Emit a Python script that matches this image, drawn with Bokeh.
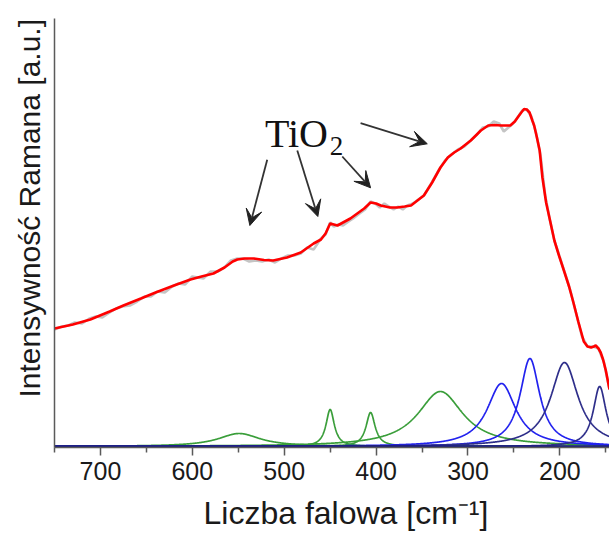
import numpy as np
from bokeh.plotting import figure
from bokeh.models import Range1d, FixedTicker, Label, Arrow, VeeHead, Title
from bokeh.embed import file_html
from bokeh.resources import INLINE

# Fitted envelope of the Raman spectrum (wavenumber, intensity a.u.)
fit_x = [750, 730, 711, 690, 675, 656, 640, 620, 602, 590, 577, 565, 556, 551, 543, 533,
         522, 512, 497, 482, 468, 460, 455, 450, 442, 428, 413, 406, 400, 395, 385, 377,
         369, 362, 355, 348, 339, 330, 322, 315, 308, 297, 286, 278, 271, 264, 254, 249,
         246, 242, 239, 236, 233, 230, 228, 225, 222, 219, 215, 210, 206, 201, 196, 190,
         185, 180, 174, 170, 166, 163, 161, 158, 155.6, 153, 150, 146]
fit_y = [119, 123, 128, 136, 142, 149, 155, 162, 168, 171, 174, 180, 186, 188, 189, 189,
         187.5, 187, 190, 195, 204, 208, 214, 224, 222, 229, 239, 245, 244, 242, 240, 240,
         241, 242, 247, 252, 265, 280, 290, 295, 299, 307, 317, 322, 322.5, 322, 322, 326,
         330, 335, 338.5, 338, 335, 327, 322, 310, 297, 270, 245, 224, 207, 192, 178, 161,
         144, 126, 106, 101, 100, 101, 102, 99, 95, 88, 77, 58]

# Measured (raw) spectrum
raw_x = [750, 742, 735, 728, 720, 712, 705, 698, 690, 683, 676, 668, 660, 652, 645, 638,
         630, 622, 615, 608, 600, 594, 588, 580, 572, 565, 558, 551, 545, 538, 531, 524,
         517, 510, 503, 496, 489, 482, 475, 468, 460, 455, 450, 446, 441, 436, 430, 425,
         418, 412, 406, 401, 396, 391, 386, 381, 376, 371, 366, 360, 354, 348, 340, 332,
         325, 318, 311, 304, 297, 290, 284, 278, 272, 266, 261, 256, 251, 246, 241, 236,
         231, 226, 221, 216, 211, 206, 200, 194, 188, 182, 176, 170, 164, 158, 152, 146]
raw_y = [118, 121, 122, 125, 124, 129, 131, 130, 135, 139, 141, 142, 146, 151, 151, 156,
         155, 161, 164, 163, 171, 170, 169, 176, 176, 180, 187, 189, 189, 186, 187, 186,
         188, 185, 189, 192, 192, 194, 200, 198, 209, 213, 225, 221, 223, 222, 226, 229,
         234, 238, 246, 244, 240, 244, 241, 238, 241, 238, 242, 244, 248, 252, 264, 277,
         287, 293, 298, 301, 307, 313, 320, 321, 326, 324, 316, 320, 324, 330, 337, 338,
         331, 315, 292, 252, 228, 207, 190, 173, 155, 133, 111, 101, 101, 99, 85, 58]

# Fitted band components: centre (cm-1), height (a.u.), half width (cm-1)
green_center = [549, 450, 406, 330]
green_height = [13, 37, 34, 55]
green_hwhm = [28, 5.5, 6, 30]

blue_center = [263.5, 232.6]
blue_height = [63, 88]
blue_hwhm = [19, 13]

navy_center = [195, 156.7]
navy_height = [84, 60]
navy_hwhm = [18, 8.5]

baseline = 1.0

x_ticks = [200, 300, 400, 500, 600, 700]
x_minor_ticks = [150, 250, 350, 450, 550, 650, 750]

p = figure(width=609, height=543, output_backend="svg", toolbar_location=None,
           x_range=Range1d(750, 146), y_range=Range1d(0, 429),
           min_border_left=54, min_border_right=0, min_border_top=18,
           min_border_bottom=96)
p.outline_line_color = None
p.grid.grid_line_color = None
p.background_fill_color = "white"
p.border_fill_color = "white"

grid = np.linspace(750, 140, 1500)


def lorentz(c, h, g):
    return baseline + h / (1.0 + ((grid - c) / g) ** 2)


for c, h, g in zip(green_center, green_height, green_hwhm):
    p.line(grid, lorentz(c, h, g), line_color="#3a9e3a", line_width=1.7)
for c, h, g in zip(blue_center, blue_height, blue_hwhm):
    p.line(grid, lorentz(c, h, g), line_color="#2222ee", line_width=1.7)
for c, h, g in zip(navy_center, navy_height, navy_hwhm):
    p.line(grid, lorentz(c, h, g), line_color="#2e2e8a", line_width=1.7)

p.line([750, 140], [baseline, baseline], line_color="#1a1a80", line_width=2.5)

p.line(raw_x, raw_y, line_color="#c4c4c4", line_width=2.6)
p.line(fit_x, fit_y, line_color="#ff0000", line_width=2.6)

# axes
xa = p.xaxis[0]
xa.ticker = FixedTicker(ticks=x_ticks, minor_ticks=x_minor_ticks)
xa.axis_line_color = "#5a5a5a"
xa.axis_line_width = 1.5
xa.major_tick_line_color = "#5a5a5a"
xa.minor_tick_line_color = "#5a5a5a"
xa.major_tick_line_width = 1.5
xa.minor_tick_line_width = 1.5
xa.major_tick_out = 8
xa.major_tick_in = 0
xa.minor_tick_out = 5
xa.minor_tick_in = 0
xa.major_label_standoff = 6
xa.major_label_text_font = "Liberation Sans"
xa.major_label_text_font_size = "25px"
xa.major_label_text_color = "#1a1a1a"

ya = p.yaxis[0]
ya.ticker = FixedTicker(ticks=[])
ya.major_label_text_font_size = "0px"
ya.major_label_standoff = 0
ya.major_tick_out = 0
ya.minor_tick_out = 0
ya.major_tick_line_color = None
ya.minor_tick_line_color = None
ya.axis_line_color = "#5a5a5a"
ya.axis_line_width = 1.5

# axis titles
p.add_layout(Title(text="Liczba falowa [cm\u207b\u00b9]", align="left", offset=149,
                   standoff=20, text_font="Liberation Sans", text_font_size="32px",
                   text_font_style="normal", text_color="#1a1a1a"), "below")
p.add_layout(Title(text="Intensywność Ramana [a.u.]", align="left", offset=50,
                   standoff=17, text_font="Liberation Sans", text_font_size="30px",
                   text_font_style="normal", text_color="#1a1a1a"), "left")

# TiO2 annotation
p.add_layout(Label(x=521, y=314, text="TiO", text_font="Liberation Serif",
                   text_font_size="40px", text_color="#111111", text_baseline="alphabetic"))
p.add_layout(Label(x=450.5, y=302, text="2", text_font="Liberation Serif",
                   text_font_size="27px", text_color="#111111", text_baseline="alphabetic"))

arrow_start_x = [518.5, 485.8, 436.8, 416.9]
arrow_start_y = [287.7, 297, 291, 324.3]
arrow_end_x = [537.4, 463.4, 406, 344.3]
arrow_end_y = [222, 231, 259.7, 303.7]
for xs, ys, xe, ye in zip(arrow_start_x, arrow_start_y, arrow_end_x, arrow_end_y):
    p.add_layout(Arrow(end=VeeHead(size=16, fill_color="#222222", line_color="#222222",
                                   line_width=1),
                       x_start=xs, y_start=ys, x_end=xe, y_end=ye,
                       line_color="#333333", line_width=1.8))

open("out.html", "w").write(file_html(p, INLINE))
